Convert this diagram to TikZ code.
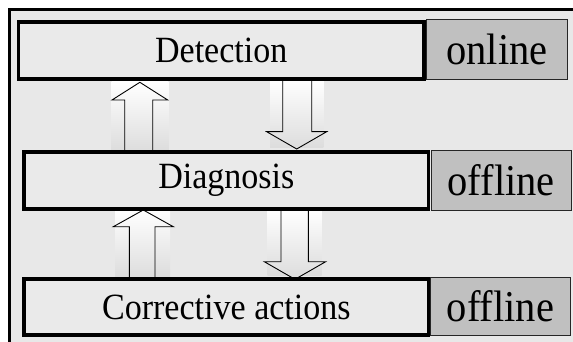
\documentclass[tikz,border=0pt]{standalone}
\usepackage{fontspec}
\setmainfont{Liberation Serif}[FakeStretch=0.92]
\definecolor{bgc}{HTML}{E8E8E8}
\definecolor{boxc}{HTML}{EAEAEA}
\definecolor{sidec}{HTML}{C0C0C0}
\definecolor{arrlo}{HTML}{DCDCDC}
\tikzset{
  frame/.style={line width=3pt, fill=bgc},
  stagebox/.style={draw=black, line width=3.5pt, fill=boxc, inner sep=0pt, outer sep=0pt,
    font=\fontsize{37}{40}\selectfont},
  modebox/.style={draw=black!85, line width=0.9pt, fill=sidec, inner sep=0pt, outer sep=0pt,
    font=\fontsize{44}{46}\selectfont},
  arrbg/.style={top color=white, bottom color=arrlo, draw=none},
  blockarrow/.style={top color=white, bottom color=arrlo, draw=black, line width=0.9pt, line join=miter}
}
% up arrow: shaft left, shaft right, head left, head right, tip y, head base y, bottom y
\newcommand\BlkUp[7]{%
  \path[blockarrow] (#1,#7) -- (#1,#6) -- (#3,#6) -- ({(#3+#4)/2},#5) -- (#4,#6) -- (#2,#6) -- (#2,#7) -- cycle;}
% down arrow: shaft left, shaft right, head left, head right, tip y, head base y, top y
\newcommand\BlkDown[7]{%
  \path[blockarrow] (#1,#7) -- (#1,#6) -- (#3,#6) -- ({(#3+#4)/2},#5) -- (#4,#6) -- (#2,#6) -- (#2,#7) -- cycle;}
\begin{document}
\begin{tikzpicture}[x=1pt,y=-1pt]
\useasboundingbox (0,0) rectangle (573,342);
\draw[frame] (9.5,9.5) rectangle (600,370);

% arrow backgrounds
\path[arrbg] (111.7,81.7) rectangle (168.3,151);
\path[arrbg] (270,81) rectangle (323.3,148);
\path[arrbg] (115,208.3) rectangle (170,277);
\path[arrbg] (267.7,210) rectangle (321.7,275);

% block arrows
\BlkUp{124.7}{152.7}{112}{167.7}{82.3}{100}{152}
\BlkDown{282.7}{311.7}{266.7}{326.7}{149}{131.7}{79}
\BlkUp{129.3}{155}{113.3}{173.3}{210}{226.7}{279}
\BlkDown{281}{308.3}{264.3}{325.7}{279.3}{261.7}{209}

% stage boxes
\node[stagebox, minimum width=405.5pt, minimum height=57pt] (det) at (221.25,50.5) {Detection};
\node[stagebox, minimum width=404.7pt, minimum height=57pt] (diag) at (226.35,180.5) {Diagnosis};
\node[stagebox, minimum width=404.7pt, minimum height=56pt] (corr) at (226.35,307) {Corrective actions};

% mode boxes
\node[modebox, minimum width=141pt, minimum height=60pt] (on) at (497,49.5) {online};
\node[modebox, minimum width=140.5pt, minimum height=60pt] (off1) at (501.25,180.5) {offline};
\node[modebox, minimum width=140pt, minimum height=58pt] (off2) at (500.5,306.5) {offline};
\end{tikzpicture}
\end{document}
